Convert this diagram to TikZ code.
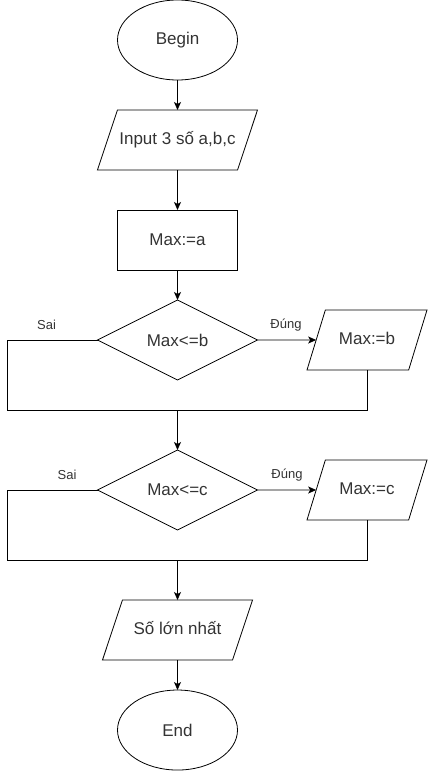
\documentclass[tikz,border=0pt]{standalone}
\usepackage{fontspec}
\setmainfont{Liberation Sans}
\usetikzlibrary{arrows.meta,positioning,shapes.geometric}
\definecolor{textgray}{RGB}{51,51,51}
\definecolor{lineblack}{RGB}{0,0,0}

\begin{document}
\begin{tikzpicture}[
  x=1pt, y=1pt,
  node distance=30pt,
  outer sep=0pt,
  term/.style={ellipse, draw=lineblack, minimum width=120pt, minimum height=80pt, inner sep=0pt, text=textgray, font=\fontsize{17}{20}\selectfont, line width=0.8pt},
  io/.style={trapezium, trapezium stretches body, trapezium left angle=71.6, trapezium right angle=108.4, draw=lineblack, text height=12pt, text depth=3.5pt, inner xsep=0pt, inner ysep=22.25pt, text=textgray, font=\fontsize{17}{20}\selectfont, line width=0.8pt},
  proc/.style={rectangle, draw=lineblack, minimum width=120pt, minimum height=60pt, inner sep=0pt, text=textgray, font=\fontsize{17}{20}\selectfont, line width=0.8pt},
  dec/.style={diamond, draw=lineblack, minimum width=160pt, minimum height=80pt, inner sep=0pt, text=textgray, font=\fontsize{17}{20}\selectfont, line width=0.8pt},
  lbl/.style={text=textgray, font=\fontsize{13}{15}\selectfont, inner sep=0pt},
  line/.style={draw=lineblack, line width=0.8pt},
  arr/.style={line, -{Stealth[length=8pt, width=7pt, inset=2pt]}}
]
\useasboundingbox (0,0) rectangle (428,-771);

\node[term] (b0) at (177.5,-40) {Begin};
\node[io, minimum width=160pt, below=of b0] (in) {Input 3 số a,b,c};
\node[proc, below=40pt of in] (ma) {Max:=a};
\node[dec, below=of ma] (d1) {Max<=b};
\node[io, minimum width=120pt, trapezium left angle=73, trapezium right angle=107] (pb) at (367,-340) {Max:=b};
\node[dec, below=70pt of d1] (d2) {Max<=c};
\node[io, minimum width=120pt, trapezium left angle=73, trapezium right angle=107] (pc) at (367,-490) {Max:=c};
\node[io, minimum width=150pt, below=70pt of d2] (out) {Số lớn nhất};
\node[term, below=of out] (e0) {End};

\node[lbl] (s1) at (46.5,-325) {Sai};
\node[lbl] (t1) at (286,-325) {Đúng};
\node[lbl] (s2) at (67,-475) {Sai};
\node[lbl] (t2) at (287,-475) {Đúng};

\coordinate (l1) at (7,-410);
\coordinate (m1) at (177.5,-410);
\coordinate (l2) at (7,-560);
\coordinate (m2) at (177.5,-560);

\draw[arr] (b0) -- (in);
\draw[arr] (in) -- (ma);
\draw[arr] (ma) -- (d1);
\draw[arr] (d1) -- (pb);
\draw[line] (d1.west) -| (l1) -- (m1);
\draw[line] (pb.south) |- (m1);
\draw[arr] (m1) -- (d2);
\draw[arr] (d2) -- (pc);
\draw[line] (d2.west) -| (l2) -- (m2);
\draw[line] (pc.south) |- (m2);
\draw[arr] (m2) -- (out);
\draw[arr] (out) -- (e0);
\end{tikzpicture}
\end{document}
